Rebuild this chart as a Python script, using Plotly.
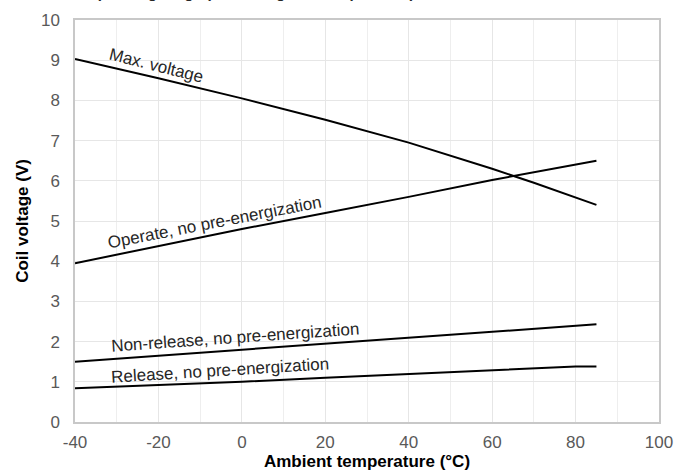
import plotly.graph_objects as go

temp_max = [-40, -20, 0, 20, 40, 60, 70, 85]
v_max = [9.03, 8.55, 8.05, 7.52, 6.95, 6.3, 5.95, 5.40]

temp_op = [-40, -20, 0, 20, 40, 60, 85]
v_op = [3.95, 4.38, 4.80, 5.20, 5.60, 6.02, 6.50]

temp_nr = [-40, -20, 0, 20, 40, 60, 80, 85]
v_nr = [1.50, 1.65, 1.80, 1.95, 2.10, 2.25, 2.40, 2.43]

temp_rel = [-40, -20, 0, 20, 40, 60, 80, 85]
v_rel = [0.84, 0.92, 1.00, 1.10, 1.19, 1.28, 1.38, 1.38]

series = [
    ("Max. voltage", temp_max, v_max, -20.7, 8.86, 14),
    ("Operate, no pre-energization", temp_op, v_op, -6.6, 4.96, -11),
    ("Non-release, no pre-energization", temp_nr, v_nr, -1.5, 2.09, -4),
    ("Release, no pre-energization", temp_rel, v_rel, -5.3, 1.27, -3.5),
]

x_ticks = [-40, -20, 0, 20, 40, 60, 80, 100]
y_ticks = list(range(0, 11))

FONT = "Liberation Sans, Arial, sans-serif"

fig = go.Figure()
for name, xs, ys, lx, ly, ang in series:
    fig.add_trace(go.Scatter(x=xs, y=ys, mode="lines", name=name,
                             line=dict(color="black", width=2), showlegend=False,
                             hoverinfo="skip"))
    fig.add_annotation(x=lx, y=ly, xref="x", yref="y", text=name, showarrow=False,
                       textangle=ang, font=dict(family=FONT, size=17, color="#262626"))

fig.add_annotation(x=0.30, y=1, xref="paper", yref="paper", xanchor="center", yanchor="bottom",
                   yshift=17, text="<b>Operating range (coil voltage vs. temperature)</b>",
                   showarrow=False, font=dict(family=FONT, size=15, color="#262626"))

fig.update_layout(
    width=677, height=471,
    margin=dict(l=75, r=18, t=20, b=49),
    paper_bgcolor="white", plot_bgcolor="white",
    font=dict(family=FONT, color="#595959", size=17),
)
fig.update_xaxes(
    range=[-40, 100], tickvals=x_ticks, ticktext=[str(v) for v in x_ticks],
    showgrid=True, gridcolor="#e6e6e6", gridwidth=1,
    minor=dict(dtick=10, showgrid=True, gridcolor="#eeeeee"),
    showline=True, linecolor="#c8c8c8", linewidth=1.5, mirror=True,
    zeroline=False, ticks="", automargin=False, ticklabelstandoff=4,
    tickfont=dict(family=FONT, size=17, color="#595959"),
    title=dict(text="<b>Ambient temperature (°C)</b>", standoff=3,
               font=dict(family=FONT, size=17, color="black")),
)
fig.update_yaxes(
    range=[0, 10], tickvals=y_ticks,
    showgrid=True, gridcolor="#e6e6e6", gridwidth=1,
    showline=True, linecolor="#c8c8c8", linewidth=1.5, mirror=True,
    zeroline=False, ticks="", automargin=False, ticklabelstandoff=10,
    tickfont=dict(family=FONT, size=17, color="#595959"),
    title=dict(text="<b>Coil voltage (V)</b>", standoff=8,
               font=dict(family=FONT, size=17, color="black")),
)

fig.write_html("out.html", config={"displayModeBar": False},
               post_script="document.body.style.margin='0';document.body.style.overflow='hidden';")
